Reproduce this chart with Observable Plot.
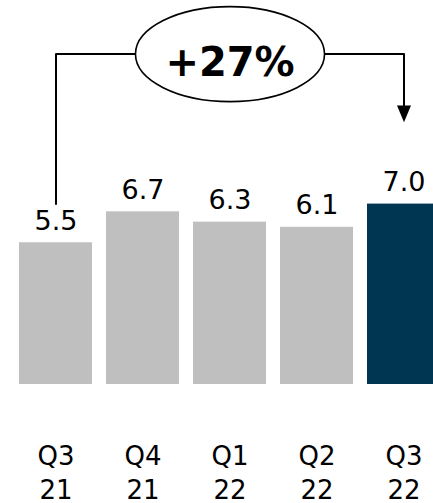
<!DOCTYPE html>
<html>
<head>
<meta charset="utf-8">
<script src="https://cdn.jsdelivr.net/npm/d3@7"></script>
<script src="https://cdn.jsdelivr.net/npm/@observablehq/plot@0.6"></script>
<style>
  html, body { margin: 0; padding: 0; background: white; }
  #chart { width: 433px; height: 503px; overflow: hidden; }
</style>
</head>
<body>
<div id="chart"></div>
<script>
// ---- data ----
const quarters = ["Q3 21", "Q4 21", "Q1 22", "Q2 22", "Q3 22"];
const values = [5.5, 6.7, 6.3, 6.1, 7.0];
const highlighted = [false, false, false, false, true];
const growthLabel = "+27%";

const data = quarters.map((q, i) => ({q, value: values[i], hi: highlighted[i]}));

// annotation levels (in value units)
const bracketLevel = 12.82;
const leftStart = values[0] + 1.5;
const arrowTop = 10.83;

const ellipseSymbol = {
  draw(ctx, size) {
    const r = Math.sqrt(size / Math.PI);
    const rx = r * 1.99, ry = r, k = 0.5523;
    ctx.moveTo(rx, 0);
    ctx.bezierCurveTo(rx, k * ry, k * rx, ry, 0, ry);
    ctx.bezierCurveTo(-k * rx, ry, -rx, k * ry, -rx, 0);
    ctx.bezierCurveTo(-rx, -k * ry, -k * rx, -ry, 0, -ry);
    ctx.bezierCurveTo(k * rx, -ry, rx, -k * ry, rx, 0);
    ctx.closePath();
  }
};
const arrowSymbol = {
  draw(ctx, size) {
    const r = Math.sqrt(size / Math.PI);
    ctx.moveTo(-r, 0);
    ctx.lineTo(r, 0);
    ctx.lineTo(0, r * 2.4);
    ctx.closePath();
  }
};

const bracket = [
  {x: quarters[0], y: leftStart},
  {x: quarters[0], y: bracketLevel},
  {x: quarters[4], y: bracketLevel},
  {x: quarters[4], y: arrowTop}
];

const chart = Plot.plot({
  width: 433,
  height: 503,
  marginTop: 0,
  marginBottom: 119,
  marginLeft: 0,
  marginRight: 0,
  style: {fontFamily: "'DejaVu Sans', Verdana, sans-serif", color: "black", background: "white"},
  x: {type: "band", domain: quarters, range: [3.8, 454.3], padding: 0.163, axis: null},
  y: {domain: [0, 14.9], axis: null},
  marks: [
    Plot.barY(data, {x: "q", y: "value", fill: d => d.hi ? "#003652" : "#bfbfbf"}),
    Plot.text(data, {x: "q", y: "value", text: d => d.value.toFixed(1), lineAnchor: "bottom", dy: -13, fontSize: 27}),
    Plot.text(data, {x: "q", text: d => d.q.replace(" ", "\n"), frameAnchor: "bottom", lineAnchor: "bottom", lineHeight: 1.27, fontSize: 26, dy: 114}),
    Plot.line(bracket, {x: "x", y: "y", stroke: "black", strokeWidth: 2}),
    Plot.dot([{x: quarters[4], y: arrowTop}], {x: "x", y: "y", symbol: arrowSymbol, r: 7, fill: "black", stroke: "none"}),
    Plot.dot([{x: quarters[2], y: bracketLevel}], {x: "x", y: "y", symbol: ellipseSymbol, r: 47.5, fill: "white", stroke: "black", strokeWidth: 1.6}),
    Plot.text([{x: quarters[2], y: bracketLevel, t: growthLabel}], {x: "x", y: "y", text: "t", fontSize: 40, fontWeight: "bold", dy: 9})
  ]
});
document.getElementById("chart").appendChild(chart);
</script>
</body>
</html>
